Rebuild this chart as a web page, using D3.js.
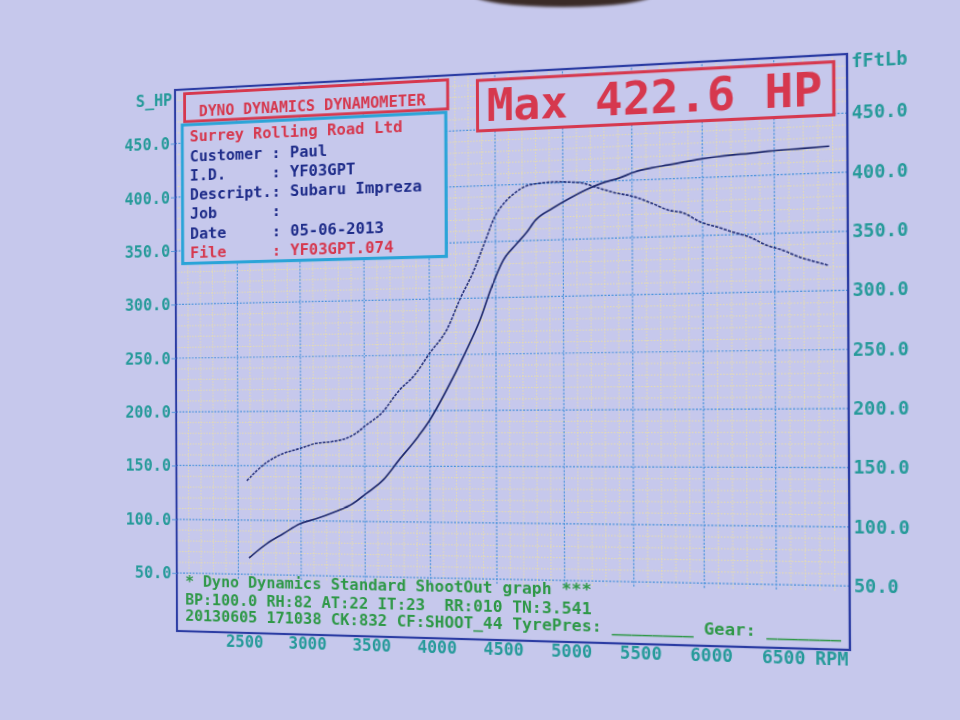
<!DOCTYPE html>
<html>
<head>
<meta charset="utf-8">
<script src="https://cdn.jsdelivr.net/npm/d3@7"></script>
<style>
  html, body { margin: 0; padding: 0; width: 960px; height: 720px; overflow: hidden; background: #c6c8ec; }
  #sheet { position: absolute; left: 0; top: 0; transform-origin: 0 0; }
  #thumb { position: absolute; left: 474px; top: -17px; width: 178px; height: 24px; border-radius: 50%;
           background: #3a2b27; filter: blur(1.5px); }
  text { font-family: "DejaVu Sans Mono", "Liberation Mono", monospace; white-space: pre; }
</style>
</head>
<body>
<svg id="sheet" width="960" height="720"></svg>
<div id="thumb"></div>
<script>
// power run, S_HP against engine speed
var powerRpm = [2586, 2727, 2859, 2992, 3117, 3250, 3406, 3508, 3636, 3764, 3913, 4000, 4111, 4272, 4383, 4470, 4556, 4655,
                4729, 4798, 4925, 5050, 5164, 5286, 5407, 5521, 5639, 5757, 5868, 5986, 6103, 6212, 6329, 6466, 6692, 6877];
var powerHp = [65.1, 78.4, 87.8, 97.2, 101.8, 107.6, 116.0, 125.0, 136.9, 155.6, 177.1, 191.5, 214.5, 251.9, 280.8, 309.7, 332.9, 347.2,
               356.9, 367.9, 378.0, 386.3, 392.9, 398.5, 402.3, 407.1, 410.0, 412.0, 414.0, 416.0, 417.5, 418.5, 419.2, 420.5, 421.6, 422.6];

// torque run, ft-lb against engine speed
var torqueRpm = [2570, 2727, 2859, 2992, 3117, 3250, 3352, 3430, 3508, 3636, 3764, 3886, 4000, 4136, 4235, 4334, 4421, 4495, 4581, 4627,
                 4754, 4925, 5050, 5143, 5236, 5357, 5521, 5639, 5757, 5868, 5986, 6103, 6212, 6329, 6445, 6555, 6671, 6788, 6863];
var torqueLbft = [136.3, 152.9, 161.3, 165.9, 170.5, 172.3, 175.0, 179.6, 186.8, 198.5, 217.9, 232.0, 251.3, 273.3, 300.1, 323.8, 349.9, 371.7, 385.9, 390.8,
                  399.2, 401.0, 400.4, 399.1, 395.2, 390.3, 385.2, 379.4, 372.9, 369.8, 361.6, 356.9, 352.1, 347.4, 340.0, 335.5, 329.1, 324.5, 321.7];

var rpmTicks = [2500, 3000, 3500, 4000, 4500, 5000, 5500, 6000, 6500];
var hpTicks = [50, 100, 150, 200, 250, 300, 350, 400, 450];
var tqTicks = [50, 100, 150, 200, 250, 300, 350, 400, 450];

var infoRows = ["Surrey Rolling Road Ltd", "Customer : Paul", "I.D.     : YF03GPT", "Descript.: Subaru Impreza",
                "Job      :", "Date     : 05-06-2013", "File     : YF03GPT.074"];
var footerRows = ["* Dyno Dynamics Standard ShootOut graph ***",
                  "BP:100.0 RH:82 AT:22 IT:23  RR:010 TN:3.541",
                  "20130605 171038 CK:832 CF:SHOOT_44 TyrePres: ________ Gear: _______"];

var BG = "#c6c8ec",
    RED = "#d6384e",
    NAVY = "#1f2d8a",
    TEAL = "#269a9a",
    GREEN = "#2e9847";

// flat sheet, later tilted to match the photo
var FX0 = 175, FX1 = 849, FY0 = 72, FY1 = 640;
var photoCorners = [[175, 90], [847, 54], [850, 650], [177, 631]];

var svg = d3.select("#sheet");
var x = d3.scaleLinear().domain([2000, 7000]).range([FX0, FX1]);
var y = d3.scaleLinear().domain([-4, 500]).range([FY1, FY0]);

// grid: pale minor lines every 100 rpm / 10 units, blue majors every 500 / 50
var grid = svg.append("g");
var minorX = d3.range(2100, 7000, 100).filter(function (r) { return r % 500 !== 0; });
var minorY = d3.range(50, 500, 10).filter(function (v) { return v % 50 !== 0; });
grid.selectAll(".mx").data(minorX).enter().append("line")
	.attr("x1", x).attr("x2", x).attr("y1", y(46)).attr("y2", y(500))
	.attr("stroke", "#e6dcae").attr("stroke-width", 1).attr("stroke-dasharray", "1.5,1.5");
grid.selectAll(".my").data(minorY).enter().append("line")
	.attr("x1", FX0).attr("x2", FX1).attr("y1", y).attr("y2", y)
	.attr("stroke", "#e6dcae").attr("stroke-width", 1).attr("stroke-dasharray", "1.5,1.5");
grid.selectAll(".Mx").data(rpmTicks).enter().append("line")
	.attr("x1", x).attr("x2", x).attr("y1", y(46)).attr("y2", y(500))
	.attr("stroke", "#4e94dc").attr("stroke-width", 1.2).attr("stroke-dasharray", "2,1.5");
grid.selectAll(".My").data(hpTicks).enter().append("line")
	.attr("x1", FX0).attr("x2", FX1).attr("y1", y).attr("y2", y)
	.attr("stroke", "#4e94dc").attr("stroke-width", 1.2).attr("stroke-dasharray", "2,1.5");

// curves
var line = d3.line()
	.x(function (d) { return x(d[0]); })
	.y(function (d) { return y(d[1]); })
	.curve(d3.curveMonotoneX);
svg.append("path")
	.datum(torqueRpm.map(function (r, i) { return [r, torqueLbft[i]]; }))
	.attr("d", line).attr("fill", "none")
	.attr("stroke", "#26327a").attr("stroke-width", 1.6).attr("stroke-dasharray", "3,1.2");
svg.append("path")
	.datum(powerRpm.map(function (r, i) { return [r, powerHp[i]]; }))
	.attr("d", line).attr("fill", "none")
	.attr("stroke", "#1f2a6e").attr("stroke-width", 1.7);

// frame
svg.append("rect")
	.attr("x", FX0).attr("y", FY0).attr("width", FX1 - FX0).attr("height", FY1 - FY0)
	.attr("fill", "none").attr("stroke", "#2b3ca3").attr("stroke-width", 2.2);

// axes
function styleAxis(g) {
	g.select(".domain").remove();
	g.selectAll("text").attr("fill", TEAL).attr("font-size", 16.8)
		.attr("font-family", "DejaVu Sans Mono").attr("font-weight", "bold");
}
var leftAxis = svg.append("g").attr("transform", "translate(" + FX0 + ",0)")
	.call(d3.axisLeft(y).tickValues(hpTicks).tickFormat(d3.format(".1f")).tickSize(5).tickPadding(1));
leftAxis.call(styleAxis);
leftAxis.selectAll("line").attr("stroke", "#4e94dc");
var rightAxis = svg.append("g").attr("transform", "translate(" + FX1 + ",0)")
	.call(d3.axisRight(y).tickValues(tqTicks).tickFormat(d3.format(".1f")).tickSize(0).tickPadding(4));
rightAxis.call(styleAxis);
var bottomAxis = svg.append("g").attr("transform", "translate(0," + FY1 + ")")
	.call(d3.axisBottom(x).tickValues(rpmTicks).tickFormat(d3.format("d")).tickSize(0).tickPadding(3));
bottomAxis.call(styleAxis);
bottomAxis.selectAll("text").attr("dx", 6);

svg.append("text").attr("x", FX0 - 3).attr("y", y(491)).attr("dy", "0.35em").attr("text-anchor", "end")
	.attr("fill", TEAL).attr("font-size", 16.8).attr("font-weight", "bold").text("S_HP");
svg.append("text").attr("x", FX1 + 4).attr("y", y(494)).attr("dy", "0.35em")
	.attr("fill", TEAL).attr("font-size", 16.8).attr("font-weight", "bold").text("fFtLb");
svg.append("text").attr("x", x(6877)).attr("y", FY1 + 3).attr("dy", "0.71em").attr("text-anchor", "middle")
	.attr("fill", TEAL).attr("font-size", 16.8).attr("font-weight", "bold").text("RPM");

// header and customer boxes
svg.append("rect")
	.attr("x", x(2078)).attr("y", y(496)).attr("width", x(4146) - x(2078)).attr("height", y(470) - y(496))
	.attr("fill", BG).attr("stroke", RED).attr("stroke-width", 3);
svg.append("text").attr("x", x(2195)).attr("y", y(474.5))
	.attr("fill", RED).attr("font-size", 16).attr("font-weight", "bold").text("DYNO DYNAMICS DYNAMOMETER");

svg.append("rect")
	.attr("x", x(2058)).attr("y", y(467)).attr("width", x(4131) - x(2058)).attr("height", y(338) - y(467))
	.attr("fill", BG).attr("stroke", "#2aa4d8").attr("stroke-width", 3.2);
svg.selectAll(".info").data(infoRows).enter().append("text")
	.attr("x", x(2119))
	.attr("y", function (d, i) { return y(450.9 - 18 * i); })
	.attr("fill", function (d, i) { return (i === 0 || i === infoRows.length - 1) ? RED : NAVY; })
	.attr("font-size", 16.4).attr("font-weight", "bold")
	.text(function (d) { return d; });

// max power box
svg.append("rect")
	.attr("x", x(4370)).attr("y", y(494)).attr("width", x(6910) - x(4370)).attr("height", y(449) - y(494))
	.attr("fill", BG).attr("stroke", RED).attr("stroke-width", 3);
svg.append("text").attr("x", x(4438)).attr("y", y(457))
	.attr("fill", RED).attr("font-size", 44.7).attr("font-weight", "bold")
	.text("Max " + d3.max(powerHp).toFixed(1) + " HP");

// footer lines
svg.selectAll(".foot").data(footerRows).enter().append("text")
	.attr("x", x(2068))
	.attr("y", function (d, i) { return y([38, 20.7, 5.8][i]); })
	.attr("fill", GREEN).attr("font-size", 16.3).attr("font-weight", "bold")
	.text(function (d) { return d; });

// tilt the flat sheet onto the photographed quadrilateral
function homography(src, dst) {
	var A = [], B = [];
	for (var i = 0; i < 4; i++) {
		var sx = src[i][0], sy = src[i][1], u = dst[i][0], v = dst[i][1];
		A.push([sx, sy, 1, 0, 0, 0, -sx * u, -sy * u]); B.push(u);
		A.push([0, 0, 0, sx, sy, 1, -sx * v, -sy * v]); B.push(v);
	}
	for (var c = 0; c < 8; c++) {
		var p = c;
		for (var r = c + 1; r < 8; r++) if (Math.abs(A[r][c]) > Math.abs(A[p][c])) p = r;
		var t = A[c]; A[c] = A[p]; A[p] = t;
		var tb = B[c]; B[c] = B[p]; B[p] = tb;
		for (r = 0; r < 8; r++) {
			if (r === c) continue;
			var f = A[r][c] / A[c][c];
			for (var k = c; k < 8; k++) A[r][k] -= f * A[c][k];
			B[r] -= f * B[c];
		}
	}
	return B.map(function (b, i) { return b / A[i][i]; });
}
var h = homography([[FX0, FY0], [FX1, FY0], [FX1, FY1], [FX0, FY1]], photoCorners);
document.getElementById("sheet").style.transform =
	"matrix3d(" + [h[0], h[3], 0, h[6], h[1], h[4], 0, h[7], 0, 0, 1, 0, h[2], h[5], 0, 1].join(",") + ")";
</script>
</body>
</html>
